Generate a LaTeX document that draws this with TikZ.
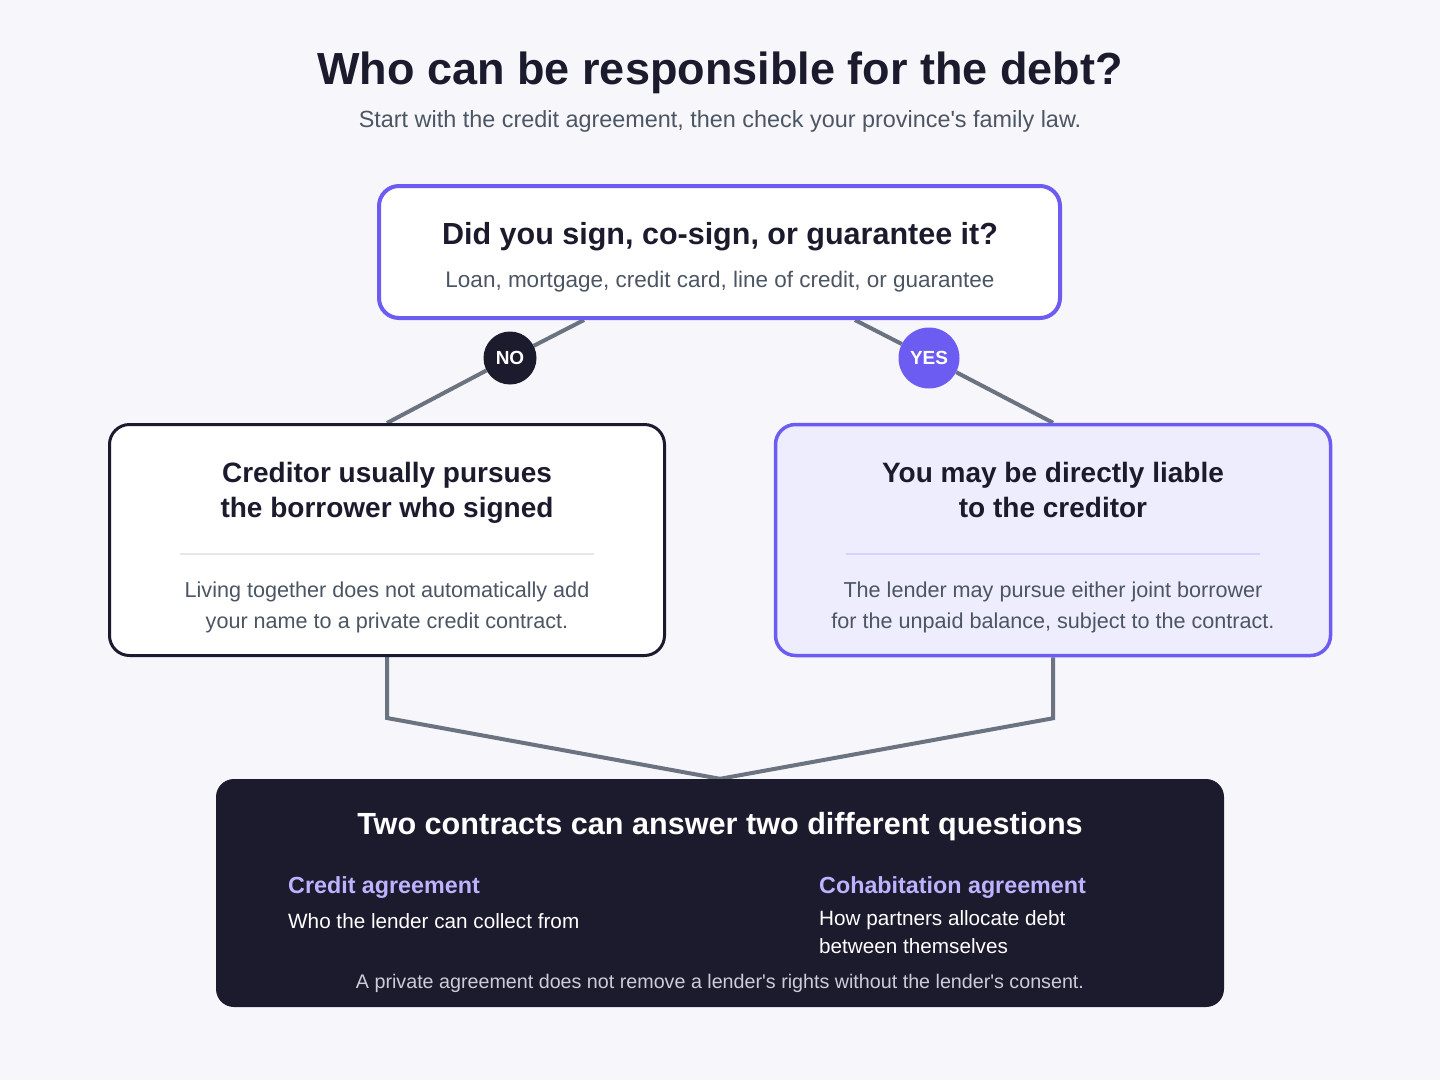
\documentclass[tikz,border=0pt]{standalone}
\usepackage{fontspec}
\setmainfont{Liberation Sans}
\usetikzlibrary{backgrounds,calc}
\definecolor{bgc}{HTML}{F7F7FB}
\definecolor{ink}{HTML}{1C1B2E}
\definecolor{purp}{HTML}{6C5CF2}
\definecolor{conn}{HTML}{6B7280}
\definecolor{graytxt}{HTML}{4B5563}
\definecolor{lav}{HTML}{EEEDFE}
\definecolor{sepgray}{HTML}{E5E7EB}
\definecolor{seppurp}{HTML}{D6D3FA}
\definecolor{lighttxt}{HTML}{BDB2FF}
\definecolor{foot}{HTML}{CBCDD8}
\begin{document}
\begin{tikzpicture}[x=1pt,y=-1pt,
  box/.style={rounded corners=20pt, inner sep=0pt, minimum width=#1},
  txt/.style={anchor=base, inner sep=0pt},
  heading/.style={txt, font=\fontsize{28}{34}\selectfont\bfseries, text=ink},
  body/.style={txt, font=\fontsize{21.6}{26}\selectfont, text=graytxt},
  conline/.style={draw=conn, line width=4pt},
  badge/.style={circle, inner sep=0pt, text=white, font=\fontsize{19}{22}\selectfont\bfseries}
]
\useasboundingbox (0,0) rectangle (1440,1080);

% title
\node[txt, font=\fontsize{45}{50}\selectfont\bfseries, text=ink] (title) at (720,84) {Who can be responsible for the debt?};
\node[txt, font=\fontsize{23.4}{26}\selectfont, text=graytxt] (subtitle) at (720,127) {Start with the credit agreement, then check your province\textquotesingle s family law.};

% top box
\node[box=681pt, minimum height=132pt, draw=purp, line width=4pt, fill=white] (top) at (719.5,252) {};
\node[heading, font=\fontsize{30.5}{34}\selectfont\bfseries] (toph) at (720,244) {Did you sign, co-sign, or guarantee it?};
\node[body, font=\fontsize{22.5}{26}\selectfont] (topb) at (720,287) {Loan, mortgage, credit card, line of credit, or guarantee};

% left box
\node[box=555pt, minimum height=231pt, draw=ink, line width=3pt, fill=white] (left) at (387,540) {};
\node[heading] (lh1) at (387,482) {Creditor usually pursues};
\node[heading] (lh2) at (387,517) {the borrower who signed};
\node[body] (lb1) at (387,597) {Living together does not automatically add};
\node[body] (lb2) at (387,628) {your name to a private credit contract.};
\draw[sepgray, line width=2pt] ($(left.west)+(72,14)$) coordinate (ls1) -- ($(left.east)+(-72,14)$) coordinate (ls2);

% right box
\node[box=555pt, minimum height=231pt, draw=purp, line width=3.5pt, fill=lav] (right) at (1053,540) {};
\node[heading] (rh1) at (1053,482) {You may be directly liable};
\node[heading] (rh2) at (1053,517) {to the creditor};
\node[body] (rb1) at (1053,597) {The lender may pursue either joint borrower};
\node[body] (rb2) at (1053,628) {for the unpaid balance, subject to the contract.};
\draw[seppurp, line width=2pt] ($(right.west)+(72,14)$) coordinate (rs1) -- ($(right.east)+(-72,14)$) coordinate (rs2);

% bottom box
\node[box=1008pt, minimum height=228pt, fill=ink, rounded corners=18pt] (bottom) at (720,893) {};
\node[txt, font=\fontsize{30.6}{34}\selectfont\bfseries, text=white] (bh) at (720,834) {Two contracts can answer two different questions};
\node[txt, anchor=base west, font=\fontsize{23.3}{26}\selectfont\bfseries, text=lighttxt] (ca) at (288,893) {Credit agreement};
\node[txt, anchor=base west, font=\fontsize{20.7}{26}\selectfont, text=white] (cab) at (288,928) {Who the lender can collect from};
\node[txt, anchor=base west, font=\fontsize{23.3}{26}\selectfont\bfseries, text=lighttxt] (co) at (819,893) {Cohabitation agreement};
\node[txt, anchor=base west, font=\fontsize{20.7}{26}\selectfont, text=white] (cob1) at (819,925) {How partners allocate debt};
\node[txt, anchor=base west, font=\fontsize{20.7}{26}\selectfont, text=white] (cob2) at (819,953) {between themselves};
\node[txt, font=\fontsize{19.7}{22}\selectfont, text=foot] (fn) at (720,988) {A private agreement does not remove a lender\textquotesingle s rights without the lender\textquotesingle s consent.};

% badges
\node[badge, fill=ink, minimum size=53pt] (no) at (510,358) {NO};
\node[badge, fill=purp, minimum size=61pt] (yes) at (929,358) {YES};

% connectors
\begin{scope}[on background layer]
\fill[bgc] (0,0) rectangle (1440,1080);
\coordinate (tl) at ($(top.south)+(-135.5,0)$);
\coordinate (tr) at ($(top.south)+(135.5,0)$);
\draw[conline] (tl) -- (no) -- (left.north);
\draw[conline] (tr) -- (yes) -- (right.north);
\draw[conline] (left.south) -- ++(0,61) coordinate (lk) -- (bottom.north);
\draw[conline] (right.south) -- ++(0,61) coordinate (rk) -- (bottom.north);
\end{scope}
\end{tikzpicture}
\end{document}
